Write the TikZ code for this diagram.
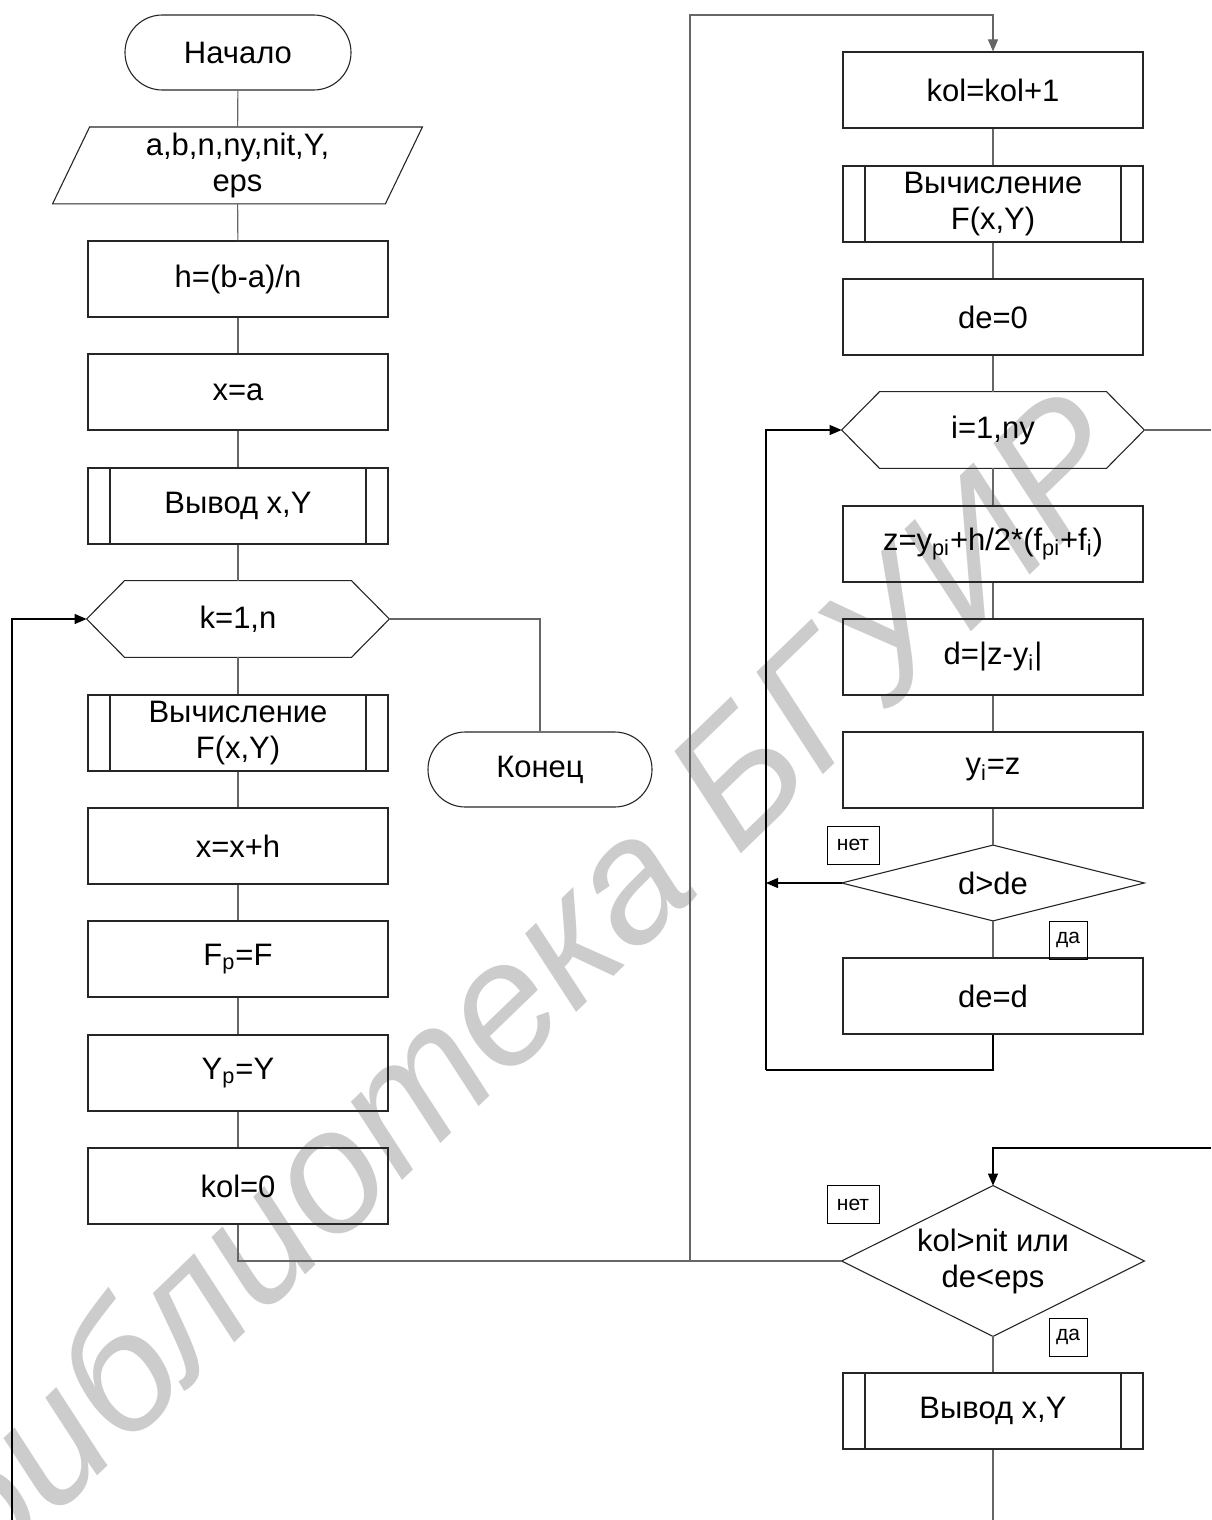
\documentclass[tikz,border=0pt]{standalone}
\usepackage{fontspec}
\setmainfont{Liberation Sans}
\usetikzlibrary{arrows.meta,calc}

% outlines for shapes drawn around invisible, fixed-size nodes
\newcommand\hexoutline[1]{%
  \draw[shapeline] (#1.west) -- ([xshift=19pt]#1.north west) -- ([xshift=-19pt]#1.north east)
    -- (#1.east) -- ([xshift=-19pt]#1.south east) -- ([xshift=19pt]#1.south west) -- cycle;}
\newcommand\diamoutline[1]{%
  \draw[shapeline] (#1.west) -- (#1.north) -- (#1.east) -- (#1.south) -- cycle;}
\newcommand\paroutline[1]{%
  \draw[shapeline] ([xshift=18.5pt]#1.north west) -- (#1.north east)
    -- ([xshift=-18.5pt]#1.south east) -- (#1.south west) -- cycle;}

\begin{document}
\begin{tikzpicture}[x=0.5pt,y=-0.5pt,
  base/.style={font=\fontsize{15.5}{18}\selectfont, inner sep=0pt, align=center},
  shapeline/.style={draw=black!85, line width=0.55pt},
  proc/.style={base, shapeline, minimum width=150pt, minimum height=38pt},
  subr/.style={proc, path picture={
      \draw[shapeline] ([xshift=11pt]path picture bounding box.north west) -- ([xshift=11pt]path picture bounding box.south west);
      \draw[shapeline] ([xshift=-11pt]path picture bounding box.north east) -- ([xshift=-11pt]path picture bounding box.south east);}},
  term/.style={base, shapeline, rounded corners=18.7pt, minimum width=113pt, minimum height=37.5pt},
  ghost/.style={base, minimum width=151pt, minimum height=38pt},
  tag/.style={draw=black, line width=0.5pt, font=\fontsize{10.5}{12}\selectfont, inner sep=0pt,
      minimum width=26pt, minimum height=19pt},
  conn/.style={draw=black!60, line width=0.55pt},
  back/.style={draw=black, line width=0.55pt},
  tip/.style={-{Triangle[length=6pt,width=5pt]}}
]
\useasboundingbox (0,0) rectangle (1211,1520);

% library watermark
\begin{scope}
  \clip (0,0) rectangle (1211,1520);
  \node[text=black!20, font=\fontsize{87}{87}\itshape, rotate=44, inner sep=0pt]
    (wm) at (518,982) {библиотека БГУИР};
\end{scope}

% left column
\node[term] (start) at (238,52.5) {Начало};
\node[base, minimum width=184.5pt, minimum height=38pt] (inp) at (237.5,165.4) {a,b,n,ny,nit,Y,\\eps};
\paroutline{inp}
\node[proc] (h) at (238,279) {h=(b-a)/n};
\node[proc] (xa) at (238,392) {x=a};
\node[subr] (out1) at (238,506) {Вывод x,Y};
\node[ghost] (k) at (238,619) {k=1,n};
\hexoutline{k}
\node[subr] (calc1) at (238,733) {Вычисление\\F(x,Y)};
\node[proc] (xh) at (238,846) {x=x+h};
\node[proc] (Fp) at (238,959) {F\textsubscript{p}=F};
\node[proc] (Yp) at (238,1073) {Y\textsubscript{p}=Y};
\node[proc] (kol0) at (238,1186) {kol=0};
\node[term, minimum width=112pt] (fin) at (540,769.5) {Конец};

% right column
\node[proc] (kol1) at (993,90) {kol=kol+1};
\node[subr] (calc2) at (993,204) {Вычисление\\F(x,Y)};
\node[proc] (de0) at (993,317) {de=0};
\node[ghost] (iloop) at (993,430) {i=1,ny};
\hexoutline{iloop}
\node[proc] (z) at (993,544) {z=y\textsubscript{pi}+h/2*(f\textsubscript{pi}+f\textsubscript{i})};
\node[proc] (d) at (993,657) {d=|z-y\textsubscript{i}|};
\node[proc] (yi) at (993,770) {y\textsubscript{i}=z};
\node[ghost, minimum height=37.5pt] (dde) at (993,883) {d>de};
\diamoutline{dde}
\node[proc] (ded) at (993,996) {de=d};
\node[ghost, minimum height=75pt] (kolnit) at (993,1261) {kol>nit или\\de<eps};
\diamoutline{kolnit}
\node[subr] (out2) at (993,1411) {Вывод x,Y};

% branch tags
\node[tag] (no1) at (853,845) {нет};
\node[tag, minimum width=19pt] (yes1) at (1068,940) {да};
\node[tag] (no2) at (853,1204.5) {нет};
\node[tag, minimum width=19pt] (yes2) at (1068,1337) {да};

% free ends and junctions
\coordinate (join) at (690,1261);
\coordinate (jtop) at (690,15);
\coordinate (ret) at (766,1070);
\coordinate (iexit) at (1211,430);
\coordinate (kin) at (1211,1148);
\coordinate (outend) at (993,1520);
\coordinate (kback) at (12,1520);

% connectors, left column
\draw[conn] (start) -- (inp);
\draw[conn] (inp) -- (h);
\draw[conn] (h) -- (xa);
\draw[conn] (xa) -- (out1);
\draw[conn] (out1) -- (k.north);
\draw[conn] (k.south) -- (calc1);
\draw[conn] (calc1) -- (xh);
\draw[conn] (xh) -- (Fp);
\draw[conn] (Fp) -- (Yp);
\draw[conn] (Yp) -- (kol0);
\draw[conn] (k.east) -| (fin.north);
\draw[conn] (kol0.south) |- (kolnit.west);
\draw[back, tip] (kback) |- (k.west);

% connectors, right column
\draw[conn, tip] (join) -- (jtop) -| (kol1.north);
\draw[conn] (kol1) -- (calc2);
\draw[conn] (calc2) -- (de0);
\draw[conn] (de0) -- (iloop.north);
\draw[conn] (iloop.south) -- (z);
\draw[conn] (z) -- (d);
\draw[conn] (d) -- (yi);
\draw[conn] (yi) -- (dde.north);
\draw[conn] (dde.south) -- (ded);
\draw[back] (ded.south) |- (ret);
\draw[back, tip] (ret) |- (iloop.west);
\draw[back, tip] (dde.west) -- (dde.west -| ret);
\draw[conn] (iloop.east) -- (iexit);
\draw[back, tip] (kin) -| (kolnit.north);
\draw[conn] (kolnit.south) -- (out2);
\draw[conn] (out2) -- (outend);
\end{tikzpicture}
\end{document}
